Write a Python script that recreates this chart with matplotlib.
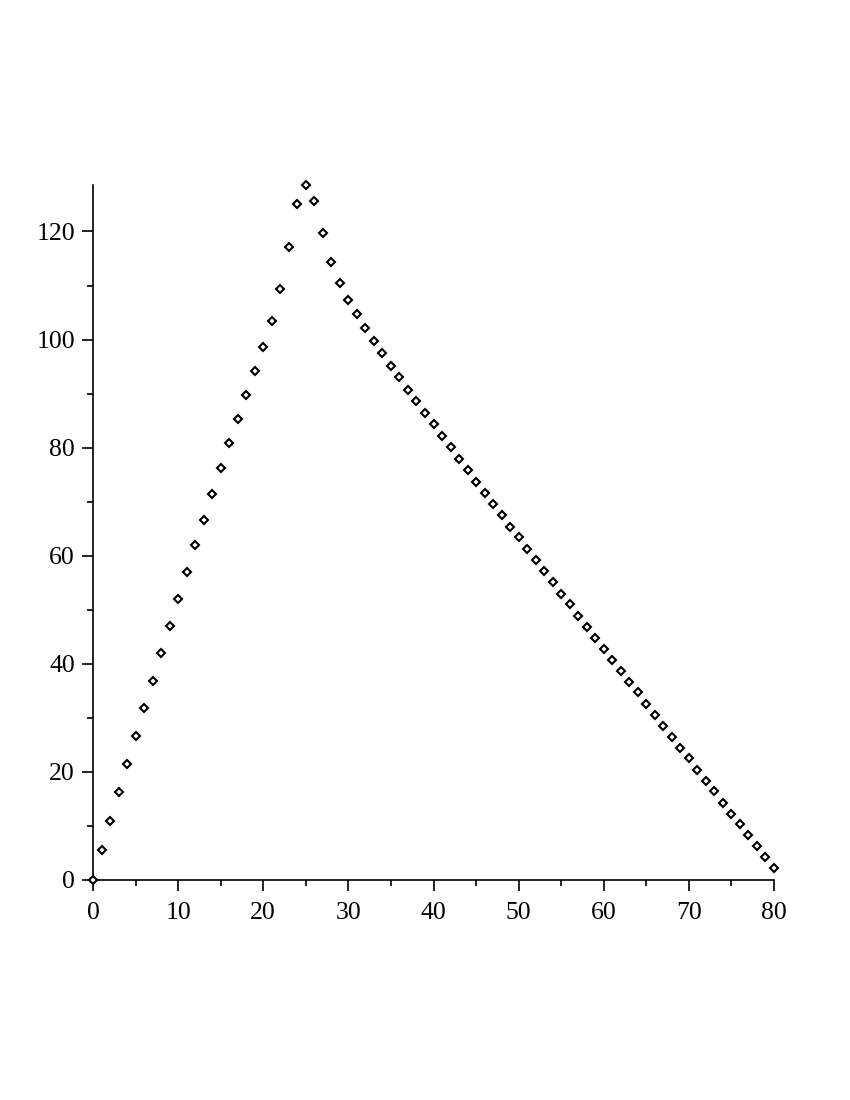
import matplotlib
matplotlib.use('Agg')
import matplotlib.pyplot as plt
from matplotlib.ticker import MultipleLocator

# values, x = 0 .. 80
x_vals = list(range(0, 81))
rise = [0, 5.6, 10.9, 16.2, 21.4, 26.6, 31.8, 36.9, 42.0, 47.0,
        52.0, 57.0, 61.9, 66.7, 71.5, 76.2, 80.8, 85.3, 89.8, 94.1,
        98.6, 103.4, 109.4, 117.2, 125.1, 128.6]
fall = [125.6, 119.7, 114.4, 110.4, 107.4, 104.7, 102.2, 99.8, 97.5, 95.2,
        93.0, 90.7, 88.6, 86.4, 84.3, 82.2, 80.1, 77.9, 75.8, 73.7,
        71.7, 69.6, 67.5, 65.4, 63.4, 61.3, 59.3, 57.2, 55.1, 53.0,
        51.1, 48.9, 46.9, 44.8, 42.8, 40.7, 38.7, 36.7, 34.7, 32.6,
        30.6, 28.5, 26.5, 24.5, 22.5, 20.4, 18.4, 16.4, 14.3, 12.3,
        10.3, 8.3, 6.2, 4.2, 2.2]
y_vals = rise + fall

plt.rcParams['font.family'] = ['Liberation Serif', 'DejaVu Serif']

fig = plt.figure(figsize=(8.5, 11), dpi=100)
ax = fig.add_axes([0.1094, 0.2, 0.8012, 0.6318])

ax.plot(x_vals, y_vals, linestyle='none', marker='D', markersize=4.3,
        markerfacecolor='white', markeredgecolor='black', markeredgewidth=1.5,
        clip_on=False, zorder=3)

ax.set_xlim(0, 80)
ax.set_ylim(0, max(y_vals))

for side in ('top', 'right'):
    ax.spines[side].set_visible(False)
for side in ('left', 'bottom'):
    ax.spines[side].set_linewidth(1.2)

ax.xaxis.set_major_locator(MultipleLocator(10))
ax.xaxis.set_minor_locator(MultipleLocator(5))
ax.yaxis.set_major_locator(MultipleLocator(20))
ax.yaxis.set_minor_locator(MultipleLocator(10))
ax.tick_params(which='major', length=8, width=1.2, labelsize=18.5, pad=5)
ax.tick_params(which='minor', length=4, width=1.2)
ax.tick_params(axis='x', which='major', pad=8)

fig.savefig('out.png', dpi=100, facecolor='white')
